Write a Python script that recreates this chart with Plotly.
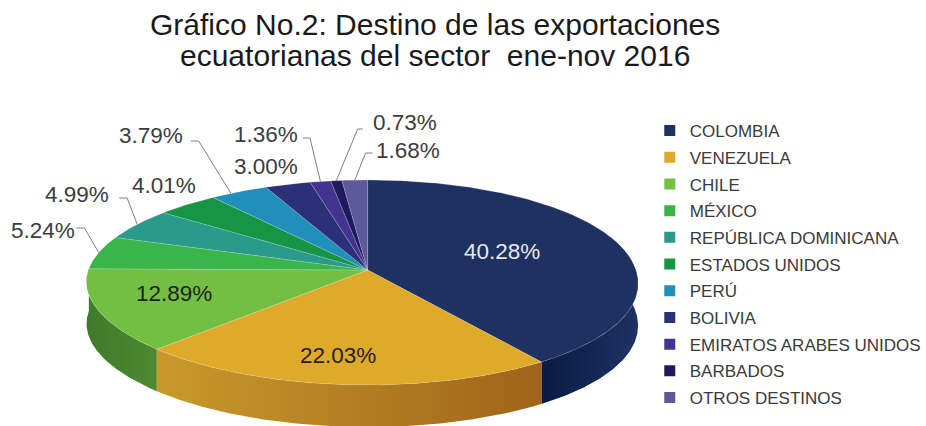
import math
import plotly.graph_objects as go

categories = ["COLOMBIA", "VENEZUELA", "CHILE", "MÉXICO", "REPÚBLICA DOMINICANA", "ESTADOS UNIDOS",
              "PERÚ", "BOLIVIA", "EMIRATOS ARABES UNIDOS", "BARBADOS", "OTROS DESTINOS"]
values = [40.28, 22.03, 12.89, 5.24, 4.99, 4.01, 3.79, 3.00, 1.36, 0.73, 1.68]
colors = ["#1e3160", "#dfa92a", "#72bf44", "#39b54a", "#2a9a8c", "#169544",
          "#2090bb", "#2b3079", "#43348f", "#1f1a5e", "#5c5a9a"]
# wall gradients for the slices facing the viewer: left colour, right colour
wall_colors = {"COLOMBIA": ("#091a45", "#1f3263"), "VENEZUELA": ("#c89a2b", "#9f641a"),
               "CHILE": ("#3d7a2b", "#4f8a30")}

# label offsets (page layout): label centre, leader polyline
label_pos = {"COLOMBIA": (505, 251), "VENEZUELA": (340, 355), "CHILE": (175, 293),
             "MÉXICO": (43, 230), "REPÚBLICA DOMINICANA": (78, 194), "ESTADOS UNIDOS": (165, 185),
             "PERÚ": (152, 135), "BOLIVIA": (268, 166), "EMIRATOS ARABES UNIDOS": (268, 134),
             "BARBADOS": (408, 122), "OTROS DESTINOS": (411, 150)}
elbows = {"MÉXICO": [(77, 228), (85, 228)], "REPÚBLICA DOMINICANA": [(120, 198), (128, 198)],
          "PERÚ": [(192, 141), (200, 141)], "EMIRATOS ARABES UNIDOS": [(305, 138), (312, 138)],
          "BARBADOS": [(365, 129), (360, 129)], "OTROS DESTINOS": [(375, 153), (368, 153)]}

CX, CY, RX, RY, PERSP, DEPTH = 370, 270, 275.5, 101, 0.122, 42


def project(deg):
    t = math.radians(deg)
    u, v = math.sin(t), math.cos(t)
    w = 1 + PERSP * v
    return CX + RX * u / w - 5.5 * u ** 4, CY - RY * v / w


def arc(a, b):
    n = max(2, int(abs(b - a) * 2))
    return [project(a + (b - a) * i / n) for i in range(n + 1)]


edges = [0]
for val in values:
    edges.append(edges[-1] + val * 3.6)

fig = go.Figure()

# side walls
for i, name in enumerate(categories):
    if name not in wall_colors:
        continue
    a, b = edges[i], edges[i + 1]
    a = max(a, 70)
    b = min(b, 290)
    pts = arc(a, b)
    xs = [p[0] for p in pts] + [p[0] for p in reversed(pts)] + [pts[0][0]]
    ys = [p[1] for p in pts] + [p[1] + DEPTH for p in reversed(pts)] + [pts[0][1]]
    left, right = wall_colors[name]
    fig.add_trace(go.Scatter(
        x=xs, y=ys, mode="lines", line=dict(width=0), fill="toself", hoverinfo="skip", showlegend=False,
        fillgradient=dict(type="horizontal", colorscale=[[0, left], [1, right]],
                          start=min(xs), stop=max(xs))))

# top surface
for i, name in enumerate(categories):
    pts = arc(edges[i], edges[i + 1])
    xs = [CX] + [p[0] for p in pts] + [CX]
    ys = [CY] + [p[1] for p in pts] + [CY]
    fig.add_trace(go.Scatter(
        x=xs, y=ys, mode="lines", fill="toself", fillcolor=colors[i],
        line=dict(width=0.5, color="rgba(255,255,255,0.35)"),
        name=name, text=f"{values[i]:.2f}%", hoverinfo="name+text", showlegend=False))

# leader lines
for i, name in enumerate(categories):
    if name in elbows:
        mid = (edges[i] + edges[i + 1]) / 2
        if name == "PERÚ":
            mid = edges[i] + 0.35 * values[i] * 3.6
        p = project(mid)
        e = elbows[name]
        fig.add_trace(go.Scatter(
            x=[e[0][0], e[1][0], p[0]], y=[e[0][1], e[1][1], p[1]], mode="lines",
            line=dict(color="#7f7f7f", width=1), hoverinfo="skip", showlegend=False))

# legend entries
for i, name in enumerate(categories):
    fig.add_trace(go.Scatter(
        x=[None], y=[None], mode="markers", name=name, legendgroup=name,
        marker=dict(symbol="square", size=11, color=colors[i])))

# percentage labels
for i, name in enumerate(categories):
    lx, ly = label_pos[name]
    fig.add_annotation(x=lx, y=ly, text=f"{values[i]:.2f}%", showarrow=False,
                       xanchor="center", yanchor="middle",
                       font=dict(family="Liberation Sans", size=22.5,
                                 color="#e6e8ee" if i == 0 else ("#1f1f1f" if i < 3 else "#3c3c3c")))

fig.add_annotation(x=438, y=24, text="Gráfico No.2: Destino de las exportaciones", showarrow=False,
                   xanchor="center", yanchor="middle",
                   font=dict(family="Liberation Sans", size=30, color="#1a1a1a"))
fig.add_annotation(x=438, y=55, text="ecuatorianas del sector \u00a0ene-nov 2016", showarrow=False,
                   xanchor="center", yanchor="middle",
                   font=dict(family="Liberation Sans", size=30, color="#1a1a1a"))

fig.update_layout(
    width=926, height=426, margin=dict(l=0, r=0, t=0, b=0),
    paper_bgcolor="white", plot_bgcolor="white",
    xaxis=dict(range=[0, 926], visible=False, fixedrange=True),
    yaxis=dict(range=[426, 0], visible=False, fixedrange=True),
    legend=dict(x=654 / 926, y=1 - 113 / 426, xanchor="left", yanchor="top",
                traceorder="grouped", tracegroupgap=1.6, itemwidth=30,
                bgcolor="rgba(0,0,0,0)",
                font=dict(family="Liberation Sans", size=17, color="#3a3a3a")),
)

fig.write_html("out.html", post_script="document.body.style.margin='0';document.body.style.overflow='hidden';",
               config={"displayModeBar": False})
